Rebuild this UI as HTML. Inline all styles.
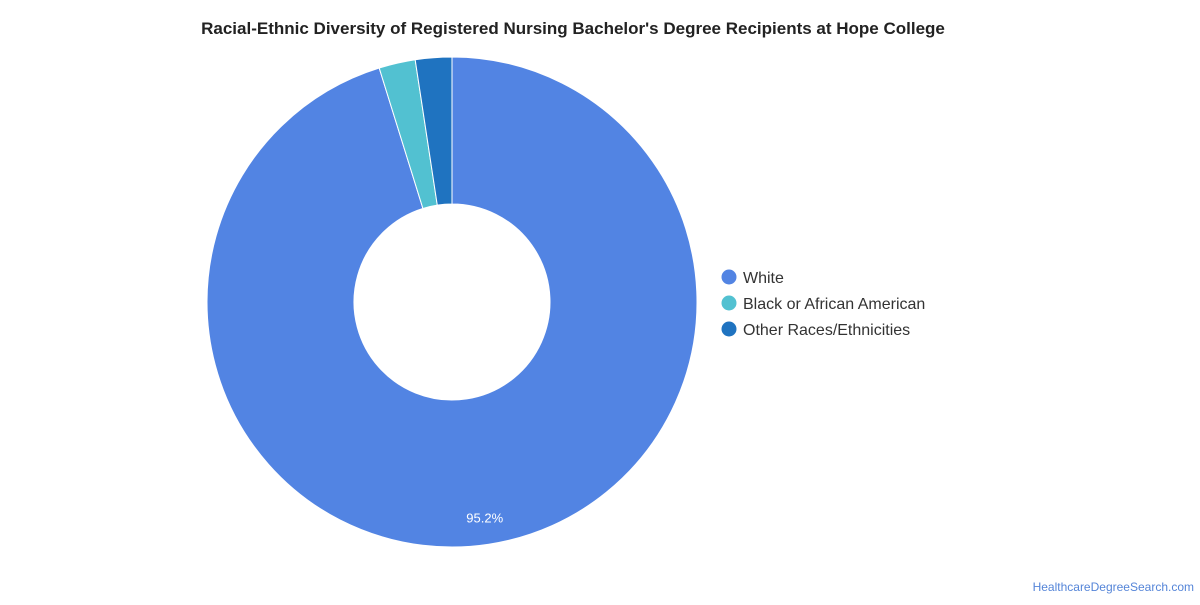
<!DOCTYPE html>
<html>
<head>
<meta charset="utf-8">
<style>
  html,body{margin:0;padding:0;background:#fff;}
  body{width:1200px;height:600px;overflow:hidden;font-family:"Liberation Sans",Arial,sans-serif;}
</style>
</head>
<body>
<svg id="chart" width="1200" height="600" viewBox="0 0 1200 600" xmlns="http://www.w3.org/2000/svg">
  <text x="573" y="34" text-anchor="middle" font-family="Liberation Sans, Arial, sans-serif" font-size="17" font-weight="bold" fill="#222">Racial-Ethnic Diversity of Registered Nursing Bachelor's Degree Recipients at Hope College</text>
  <g id="slices"></g>
  <g id="legend"></g>
  <text x="1194" y="591" text-anchor="end" font-family="Liberation Sans, Arial, sans-serif" font-size="12" fill="#5585d8">HealthcareDegreeSearch.com</text>
</svg>
<script>
const categories = ["White", "Black or African American", "Other Races/Ethnicities"];
const values = [95.2, 2.4, 2.4];
const colors = ["#5284e3", "#52c1d1", "#1f73c0"];
const labels = ["95.2%", "", ""];

const NS = "http://www.w3.org/2000/svg";
const cx = 452, cy = 302, R = 245, r = 98;
const total = values.reduce((a,b)=>a+b,0);
function angleOf(v){ return v / total * Math.PI * 2; }
function pt(rad, a){ return [cx + rad*Math.sin(a), cy - rad*Math.cos(a)]; }

const gS = document.getElementById('slices');
let a0 = 0;
values.forEach((v,i)=>{
  const a1 = a0 + angleOf(v);
  const large = (a1 - a0) > Math.PI ? 1 : 0;
  const [x0,y0] = pt(R,a0), [x1,y1] = pt(R,a1), [x2,y2] = pt(r,a1), [x3,y3] = pt(r,a0);
  const p = document.createElementNS(NS,'path');
  p.setAttribute('d', `M${x0},${y0} A${R},${R} 0 ${large} 1 ${x1},${y1} L${x2},${y2} A${r},${r} 0 ${large} 0 ${x3},${y3} Z`);
  p.setAttribute('fill', colors[i]);
  p.setAttribute('stroke', '#fff');
  p.setAttribute('stroke-width', '1');
  
  
  gS.appendChild(p);
  if (labels[i]) {
    const mid = (a0 + a1) / 2;
    const [lx, ly] = pt(R - 27, mid);
    const t = document.createElementNS(NS,'text');
    t.setAttribute('x', lx); t.setAttribute('y', ly + 5);
    t.setAttribute('text-anchor','middle');
    t.setAttribute('font-size','13');
    t.setAttribute('fill','#fff');
    t.setAttribute('font-family','Liberation Sans, Arial, sans-serif');
    t.textContent = labels[i];
    
    
    gS.appendChild(t);
  }
  a0 = a1;
});

const gL = document.getElementById('legend');
categories.forEach((c,i)=>{
  const y = 277 + i*26;
  const circ = document.createElementNS(NS,'circle');
  circ.setAttribute('cx', 729); circ.setAttribute('cy', y); circ.setAttribute('r', 7.5);
  circ.setAttribute('fill', colors[i]);
  
  
  gL.appendChild(circ);
  const t = document.createElementNS(NS,'text');
  t.setAttribute('x', 743); t.setAttribute('y', y + 6);
  t.setAttribute('font-size','16');
  t.setAttribute('fill','#333');
  t.setAttribute('font-family','Liberation Sans, Arial, sans-serif');
  t.textContent = c;
  
  
  gL.appendChild(t);
});
</script>
</body>
</html>
